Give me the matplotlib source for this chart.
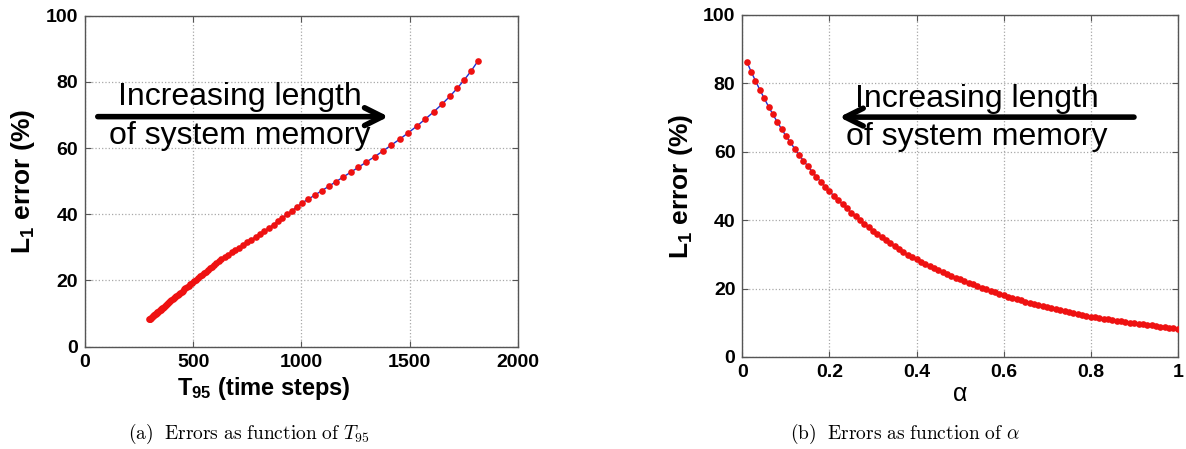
import matplotlib
matplotlib.use('Agg')
import matplotlib.pyplot as plt

plt.rcParams['font.family'] = ['Liberation Sans', 'DejaVu Sans']
plt.rcParams['mathtext.fontset'] = 'custom'
plt.rcParams['mathtext.rm'] = 'Liberation Sans'
plt.rcParams['mathtext.bf'] = 'Liberation Sans:bold'
plt.rcParams['mathtext.it'] = 'Liberation Sans:italic'

# forgetting factor alpha (right panel x)
alpha = [0.01, 0.02, 0.03, 0.04, 0.05, 0.06, 0.07, 0.08, 0.09, 0.10,
         0.11, 0.12, 0.13, 0.14, 0.15, 0.16, 0.17, 0.18, 0.19, 0.20,
         0.21, 0.22, 0.23, 0.24, 0.25, 0.26, 0.27, 0.28, 0.29, 0.30,
         0.31, 0.32, 0.33, 0.34, 0.35, 0.36, 0.37, 0.38, 0.39, 0.40,
         0.41, 0.42, 0.43, 0.44, 0.45, 0.46, 0.47, 0.48, 0.49, 0.50,
         0.51, 0.52, 0.53, 0.54, 0.55, 0.56, 0.57, 0.58, 0.59, 0.60,
         0.61, 0.62, 0.63, 0.64, 0.65, 0.66, 0.67, 0.68, 0.69, 0.70,
         0.71, 0.72, 0.73, 0.74, 0.75, 0.76, 0.77, 0.78, 0.79, 0.80,
         0.81, 0.82, 0.83, 0.84, 0.85, 0.86, 0.87, 0.88, 0.89, 0.90,
         0.91, 0.92, 0.93, 0.94, 0.95, 0.96, 0.97, 0.98, 0.99, 1.00]

# T95 for the same points (left panel x)
t95 = [1815, 1785, 1753, 1720, 1685, 1648, 1610, 1571, 1532, 1493,
       1454, 1415, 1376, 1338, 1300, 1263, 1227, 1192, 1158, 1125,
       1093, 1062, 1032, 1002, 978, 956, 934, 911, 891, 871,
       849, 829, 808, 788, 767, 749, 730, 711, 694, 678,
       661, 645, 630, 617, 606, 595, 586, 576, 567, 558,
       548, 539, 530, 520, 511, 504, 495, 487, 479, 471,
       464, 458, 451, 446, 439, 433, 428, 421, 415, 410,
       405, 399, 394, 388, 383, 379, 374, 369, 365, 360,
       356, 352, 349, 345, 342, 338, 334, 331, 327, 324,
       320, 318, 315, 313, 309, 306, 304, 301, 299, 296]

# L1 error in %
l1_err = [86.3, 83.4, 80.7, 78.1, 75.6, 73.2, 70.9, 68.7, 66.6, 64.6,
          62.7, 60.9, 59.1, 57.4, 55.8, 54.2, 52.7, 51.2, 49.8, 48.4,
          47.1, 45.8, 44.6, 43.4, 42.2, 41.1, 40.0, 38.9, 37.9, 36.9,
          35.9, 35.0, 34.1, 33.2, 32.3, 31.5, 30.7, 29.9, 29.2, 28.5,
          27.8, 27.1, 26.5, 25.9, 25.3, 24.7, 24.2, 23.7, 23.2, 22.7,
          22.2, 21.7, 21.2, 20.7, 20.2, 19.8, 19.3, 18.9, 18.4, 18.0,
          17.6, 17.3, 16.9, 16.6, 16.2, 15.9, 15.6, 15.2, 14.9, 14.6,
          14.3, 14.0, 13.7, 13.4, 13.1, 12.9, 12.6, 12.3, 12.1, 11.8,
          11.6, 11.4, 11.2, 11.0, 10.8, 10.6, 10.4, 10.2, 10.0, 9.8,
          9.6, 9.5, 9.3, 9.2, 9.0, 8.8, 8.7, 8.5, 8.4, 8.2]

fig = plt.figure(figsize=(11.86, 4.49), dpi=100)
ax1 = fig.add_axes([0.0717, 0.228, 0.365, 0.737])
ax2 = fig.add_axes([0.626, 0.205, 0.367, 0.762])

def style(ax):
  ax.grid(True, linestyle=':', color='#a8a8a8', linewidth=0.9)
  ax.set_axisbelow(True)
  ax.tick_params(direction='in', top=True, right=True, length=4,
                 labelsize=14, pad=5, color='#555555')
  for lab in ax.get_xticklabels() + ax.get_yticklabels():
    lab.set_fontweight('bold')
  for sp in ax.spines.values():
    sp.set_color('#555555')
    sp.set_linewidth(1.0)

ax1.plot(t95, l1_err, '-', color='#1f2fd0', linewidth=1.0, zorder=2)
ax1.plot(t95, l1_err, 'o', color='#ee1111', markersize=4.8, markeredgewidth=0, zorder=3)
ax1.set_xlim(0, 2000)
ax1.set_ylim(0, 100)
ax1.set_xticks([0, 500, 1000, 1500, 2000])
ax1.set_yticks([0, 20, 40, 60, 80, 100])
style(ax1)
ax1.set_xlabel(r'$\mathbf{T_{95}}$ (time steps)', fontsize=17, fontweight='bold')
ax1.xaxis.set_label_coords(0.413, -0.085)
ax1.set_ylabel(r'$\mathbf{L_1}$ error (%)', fontsize=19, fontweight='bold', labelpad=6)
ax1.text(715, 73.0, 'Increasing length', fontsize=23, ha='center', va='baseline')
ax1.text(715, 61.2, 'of system memory', fontsize=23, ha='center', va='baseline')
ax1.annotate('', xy=(1415, 69.5), xytext=(46, 69.5),
             arrowprops=dict(arrowstyle='->', lw=4, color='black', mutation_scale=32))

ax2.plot(alpha, l1_err, '-', color='#1f2fd0', linewidth=1.0, zorder=2)
ax2.plot(alpha, l1_err, 'o', color='#ee1111', markersize=4.8, markeredgewidth=0, zorder=3)
ax2.set_xlim(0, 1)
ax2.set_ylim(0, 100)
ax2.set_xticks([0, 0.2, 0.4, 0.6, 0.8, 1])
ax2.set_xticklabels(['0', '0.2', '0.4', '0.6', '0.8', '1'])
ax2.set_yticks([0, 20, 40, 60, 80, 100])
style(ax2)
ax2.set_xlabel('α', fontsize=18, labelpad=1)
ax2.set_ylabel(r'$\mathbf{L_1}$ error (%)', fontsize=19, fontweight='bold', labelpad=6)
ax2.text(0.538, 73.2, 'Increasing length', fontsize=23, ha='center', va='baseline')
ax2.text(0.538, 62.0, 'of system memory', fontsize=23, ha='center', va='baseline')
ax2.annotate('', xy=(0.216, 70.1), xytext=(0.906, 70.1),
             arrowprops=dict(arrowstyle='->', lw=4, color='black', mutation_scale=32))

fig.text(0.21, 0.022, r'$\mathrm{(a)\ \ Errors\ as\ function\ of\ }T_{95}$',
         math_fontfamily='cm', fontsize=14, ha='center', va='baseline')
fig.text(0.763, 0.022, r'$\mathrm{(b)\ \ Errors\ as\ function\ of\ }\alpha$',
         math_fontfamily='cm', fontsize=14, ha='center', va='baseline')

fig.savefig('out.png', dpi=100)
